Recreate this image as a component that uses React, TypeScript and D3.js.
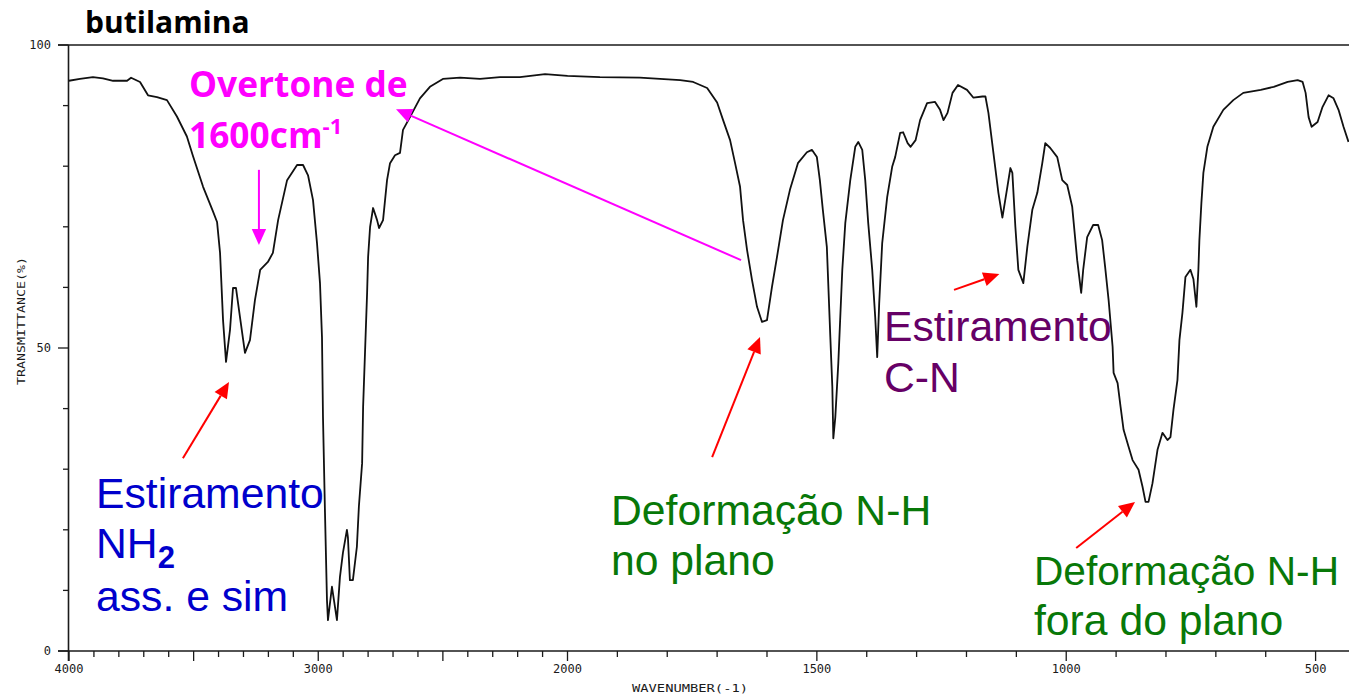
import React from "react";
import * as d3 from "d3";

// IR spectrum of n-butylamine (liquid film), % transmittance vs wavenumber
const WAVENUMBER = [
  4000, 3956, 3904, 3864, 3823, 3767, 3751, 3715, 3683, 3647, 3607, 3567, 3527, 3502, 3462, 3422,
  3406, 3394, 3382, 3370, 3354, 3342, 3330, 3314, 3294, 3274, 3254, 3233, 3202, 3182, 3161, 3125,
  3085, 3061, 3041, 3021, 3005, 2993, 2985, 2981, 2973, 2965, 2961, 2945, 2937, 2925, 2913, 2901,
  2885, 2881, 2873, 2861, 2845, 2837, 2824, 2820, 2812, 2804, 2800, 2792, 2780, 2764, 2756, 2740,
  2732, 2724, 2712, 2692, 2672, 2660, 2632, 2592, 2552, 2500, 2431, 2351, 2271, 2191, 2090, 2000,
  1935, 1855, 1774, 1748, 1720, 1700, 1688, 1674, 1664, 1654, 1648, 1640, 1630, 1620, 1610, 1600,
  1590, 1580, 1568, 1554, 1538, 1520, 1510, 1500, 1494, 1488, 1480, 1473, 1469, 1467, 1463, 1457,
  1449, 1443, 1433, 1423, 1417, 1409, 1403, 1397, 1389, 1383, 1379, 1375, 1369, 1359, 1349, 1343,
  1333, 1327, 1318, 1312, 1302, 1293, 1279, 1263, 1253, 1246, 1238, 1228, 1217, 1199, 1186, 1168,
  1162, 1156, 1146, 1136, 1128, 1118, 1112, 1108, 1102, 1096, 1086, 1078, 1068, 1058, 1048, 1042,
  1032, 1018, 1008, 998, 988, 978, 970, 966, 958, 946, 936, 928, 922, 915, 907, 905,
  897, 891, 885, 875, 867, 855, 847, 841, 835, 827, 817, 807, 797, 791, 785, 777,
  773, 767, 761, 751, 745, 739, 735, 733, 729, 725, 717, 705, 685, 665, 645, 610,
  584, 556, 536, 526, 520, 514, 508, 496, 486, 474, 464, 454, 444, 434,
];

const TRANSMITTANCE = [
  94.1, 94.4, 94.7, 94.5, 94.1, 94.1, 94.6, 93.9, 91.7, 91.4, 90.9, 88.2, 84.9, 81.6, 76.6, 72.5,
  70.8, 65.7, 54.6, 47.7, 53.0, 59.9, 59.9, 55.1, 49.2, 51.3, 57.9, 62.9, 64.2, 65.7, 71.1, 77.7,
  80.2, 80.2, 78.5, 74.4, 67.3, 60.7, 51.8, 38.6, 22.9, 8.4, 5.1, 10.6, 8.4, 5.1, 12.2, 16.2,
  20.0, 18.8, 11.7, 11.7, 17.2, 23.8, 31.0, 40.3, 49.7, 59.1, 65.0, 70.0, 73.1, 71.1, 69.8, 71.1,
  74.4, 77.7, 80.5, 81.8, 82.2, 86.0, 88.1, 91.2, 93.1, 94.4, 94.6, 94.4, 94.7, 94.7, 95.2, 94.9,
  94.7, 94.6, 94.2, 93.9, 92.9, 90.5, 87.6, 84.3, 80.5, 76.6, 71.1, 66.2, 61.2, 56.8, 54.3, 54.6,
  60.1, 65.0, 71.1, 76.1, 80.5, 82.3, 82.7, 81.5, 77.7, 72.8, 66.7, 51.8, 43.6, 35.1, 38.6, 47.5,
  62.9, 70.6, 77.7, 83.2, 84.0, 82.7, 77.7, 70.6, 62.9, 55.1, 48.5, 57.4, 67.3, 74.9, 79.9, 81.5,
  85.5, 85.6, 83.8, 83.2, 84.3, 87.6, 90.4, 90.6, 89.3, 87.6, 88.8, 92.1, 93.4, 92.6, 91.3, 91.5,
  91.5, 88.8, 82.2, 75.6, 71.5, 76.6, 79.7, 78.9, 70.0, 62.9, 60.7, 66.7, 72.8, 75.6, 80.5, 83.8,
  83.0, 81.5, 77.7, 76.9, 73.3, 64.5, 59.1, 62.9, 68.3, 70.3, 70.3, 67.8, 63.4, 57.9, 50.2, 45.9,
  44.2, 40.3, 36.5, 33.7, 31.5, 29.9, 27.1, 24.6, 24.6, 27.7, 33.2, 36.0, 34.8, 35.3, 39.8, 44.7,
  51.3, 55.8, 61.7, 62.9, 61.4, 56.8, 62.9, 67.8, 73.9, 78.9, 83.2, 86.5, 89.3, 90.9, 92.1, 92.6,
  93.1, 93.9, 94.2, 93.9, 92.1, 88.1, 86.5, 87.3, 89.8, 91.7, 91.2, 89.3, 86.5, 84.0,
];

const X_MINOR_TICKS = d3.range(500, 4001, 100);
const X_MAJOR_TICKS = [4000, 3500, 3000, 2500, 2000, 1500, 1000, 500];
const X_TICK_LABELS = [4000, 3000, 2000, 1500, 1000, 500];
const Y_MINOR_TICKS = d3.range(0, 101, 10);
const Y_MAJOR_TICKS = [0, 50, 100];
const Y_TICK_LABELS = ["0", "50", "100"];

// Annotation arrows in data space: [tailWavenumber, tailT, tipWavenumber, tipT]
const MAGENTA_ARROWS: [number, number, number, number][] = [
  [3238, 79.4, 3238, 67.0],
  [1652, 64.5, 2688, 89.4],
];
const RED_ARROWS: [number, number, number, number][] = [
  [3543, 31.8, 3358, 44.4],
  [1710, 32.0, 1614, 51.8],
  [1225, 59.6, 1134, 62.2],
  [980, 17.0, 862, 24.6],
];

const W = 1349;
const H = 697;

const x = d3.scaleLinear().domain([4000, 2000, 430]).range([69, 567.5, 1350.5]);
const y = d3.scaleLinear().domain([0, 100]).range([651, 45]);

const AXIS = "#1a1a1a";
const MONO = "'DejaVu Sans Mono', monospace";
const SANS = "'Liberation Sans', Arial, sans-serif";
const BOLD = "'Open Sans', 'Liberation Sans', sans-serif";
const NOTE_SIZE = 42.7;

function Arrow({ a, color, width, head }: { a: [number, number, number, number]; color: string; width: number; head: number }) {
  const x1 = x(a[0]), y1 = y(a[1]), x2 = x(a[2]), y2 = y(a[3]);
  const ang = Math.atan2(y2 - y1, x2 - x1);
  const hw = head * 0.45;
  const bx = x2 - head * Math.cos(ang);
  const by = y2 - head * Math.sin(ang);
  const p1 = [bx + hw * Math.sin(ang), by - hw * Math.cos(ang)];
  const p2 = [bx - hw * Math.sin(ang), by + hw * Math.cos(ang)];
  return (
    <g>
      <line x1={x1} y1={y1} x2={bx} y2={by} stroke={color} strokeWidth={width} />
      <polygon points={`${x2},${y2} ${p1[0]},${p1[1]} ${p2[0]},${p2[1]}`} fill={color} />
    </g>
  );
}

export default function App() {
  const pts: [number, number][] = WAVENUMBER.map((w, i) => [w, TRANSMITTANCE[i]]);
  const line = d3
    .line<[number, number]>()
    .x((d) => x(d[0]))
    .y((d) => y(d[1]))
    .curve(d3.curveLinear);

  return (
    <svg width={W} height={H} style={{ position: "absolute", left: 0, top: 0, background: "#fff" }}>
      {/* frame */}
      <line x1={58} x2={W} y1={y(100)} y2={y(100)} stroke={AXIS} strokeWidth={1.6} />
      <line x1={58} x2={W} y1={y(0)} y2={y(0)} stroke={AXIS} strokeWidth={1.6} />
      <line x1={68.5} x2={68.5} y1={y(100)} y2={y(0) + 10} stroke={AXIS} strokeWidth={1.6} />

      {/* y ticks */}
      {Y_MINOR_TICKS.map((t) => (
        <line key={"ym" + t} x1={Y_MAJOR_TICKS.includes(t) ? 58 : 63} x2={68.5} y1={y(t)} y2={y(t)} stroke={AXIS} strokeWidth={1.3} />
      ))}
      {Y_MAJOR_TICKS.map((t, i) => (
        <text key={"yl" + t} x={51} y={y(t)} dy="0.35em" textAnchor="end" fontFamily={MONO} fontSize={12} fill={AXIS}>
          {Y_TICK_LABELS[i]}
        </text>
      ))}
      <text
        transform={`translate(21,321) rotate(-90)`}
        textAnchor="middle"
        dy="0.35em"
        fontFamily={MONO}
        fontSize={10.5}
        textLength={128}
        lengthAdjust="spacingAndGlyphs"
        fill={AXIS}
      >
        TRANSMITTANCE(%)
      </text>

      {/* x ticks */}
      {X_MINOR_TICKS.map((t) => (
        <line key={"xm" + t} x1={x(t)} x2={x(t)} y1={y(0)} y2={y(0) + (X_MAJOR_TICKS.includes(t) ? 10 : 6)} stroke={AXIS} strokeWidth={1.3} />
      ))}
      {X_TICK_LABELS.map((t) => (
        <text key={"xl" + t} x={x(t)} y={669} textAnchor="middle" dy="0.35em" fontFamily={MONO} fontSize={12} fill={AXIS}>
          {t}
        </text>
      ))}
      <text x={690} y={688} textAnchor="middle" dy="0.35em" fontFamily={MONO} fontSize={11} textLength={116} lengthAdjust="spacingAndGlyphs" fill={AXIS}>
        WAVENUMBER(-1)
      </text>

      {/* spectrum */}
      <path d={line(pts) ?? ""} fill="none" stroke="#111" strokeWidth={1.8} strokeLinejoin="round" />

      {/* title */}
      <text x={85} y={33} fontFamily={BOLD} fontWeight={700} fontSize={30} fill="#000">
        butilamina
      </text>

      {/* overtone note */}
      <text x={189} y={97} fontFamily={BOLD} fontWeight={700} fontSize={35.3} fill="#FF00FF">
        Overtone de
      </text>
      <text x={189} y={148} fontFamily={BOLD} fontWeight={700} fontSize={35.3} fill="#FF00FF">
        1600cm
        <tspan fontSize={22} dy={-14}>-1</tspan>
      </text>
      {MAGENTA_ARROWS.map((a, i) => (
        <Arrow key={"ma" + i} a={a} color="#FF00FF" width={2} head={16} />
      ))}

      {/* band assignments */}
      {RED_ARROWS.map((a, i) => (
        <Arrow key={"ra" + i} a={a} color="#FF0000" width={2} head={16} />
      ))}

      <g fontFamily={SANS} fontSize={NOTE_SIZE} fill="#0000CC">
        <text x={96} y={508}>Estiramento</text>
        <text x={96} y={558}>
          NH
          <tspan fontWeight={700} fontSize={31} dy={10}>2</tspan>
        </text>
        <text x={96} y={611}>ass. e sim</text>
      </g>

      <g fontFamily={SANS} fontSize={NOTE_SIZE} fill="#087808">
        <text x={611} y={525}>Deformação N-H</text>
        <text x={611} y={575}>no plano</text>
        <text x={1034} y={585} fontSize={41.5} textLength={305} lengthAdjust="spacingAndGlyphs">Deformação N-H</text>
        <text x={1034} y={635}>fora do plano</text>
      </g>

      <g fontFamily={SANS} fontSize={NOTE_SIZE} fill="#660066">
        <text x={884} y={341}>Estiramento</text>
        <text x={884} y={392}>C-N</text>
      </g>
    </svg>
  );
}
